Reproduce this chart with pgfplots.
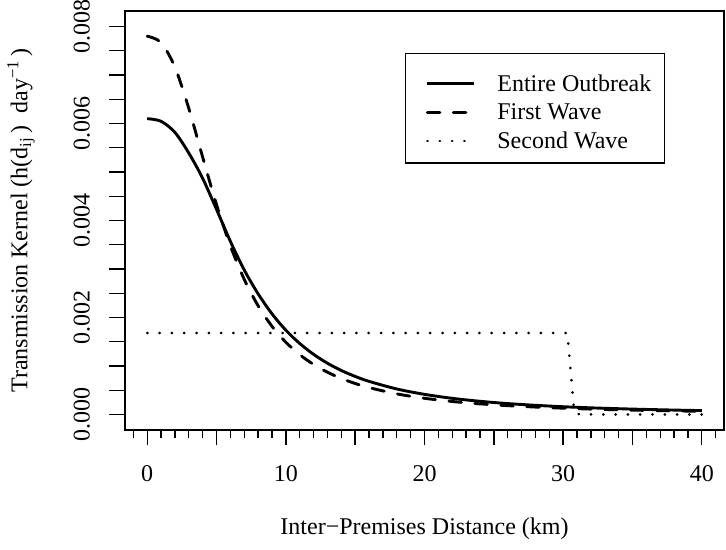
\documentclass[border=0pt]{standalone}
\usepackage{fontspec}
\setmainfont{Liberation Serif}
\usepackage{pgfplots}
\pgfplotsset{compat=1.18}
\newcommand{\fs}{\fontsize{24bp}{28.8bp}\selectfont}
\begin{document}
\begin{tikzpicture}[font=\fs]
\useasboundingbox (0,0) rectangle (726bp,550bp);
\begin{axis}[
  at={(125bp,120bp)}, anchor=south west,
  scale only axis, width=599bp, height=419bp,
  xmin=-1.6, xmax=41.6, ymin=-0.00032, ymax=0.00832,
  axis line style={line width=1.35bp},
  tick align=outside, xtick pos=bottom, ytick pos=left,
  every tick/.style={black, line width=1.35bp},
  every minor tick/.style={black, line width=1.35bp},
  major tick length=15.5bp, minor tick length=8bp,
  xtick={0,5,...,40}, xticklabels={0,,10,,20,,30,,40},
  minor xtick={-1,1,2,3,4,6,7,8,9,11,12,13,14,16,17,18,19,21,22,23,24,26,27,28,29,31,32,33,34,36,37,38,39,41},
  ytick={0,0.0005,0.001,0.0015,0.002,0.0025,0.003,0.0035,0.004,0.0045,0.005,0.0055,0.006,0.0065,0.007,0.0075,0.008},
  yticklabels={\rotatebox{90}{0.000},,,,\rotatebox{90}{0.002},,,,\rotatebox{90}{0.004},,,,\rotatebox{90}{0.006},,,,\rotatebox{90}{0.008}},
  scaled y ticks=false,
  tick label style={font=\fs},
  xticklabel style={anchor=center, yshift=-27.7bp},
  yticklabel style={anchor=center, xshift=-27.7bp},
  label style={font=\fs},
  xlabel={Inter−Premises Distance (km)},
  ylabel={Transmission Kernel (h(d\textsubscript{ij}\,)\enspace day\textsuperscript{−1}\,)},
  xlabel style={at={(axis description cs:0.5,-0.236)}, anchor=center},
  ylabel style={at={(axis description cs:-0.1736,0.5)}, anchor=center},
  legend style={at={(axis description cs:0.9015,0.8998)}, anchor=north east,
    draw=black, line width=1.35bp, font=\fs,
    inner xsep=13bp, inner ysep=11.4bp, row sep=0pt, column sep=0pt,
    cells={anchor=west},
    nodes={inner sep=0pt, text height=26bp, text depth=2.8bp}},
  legend cell align=left,
  legend image code/.code={\path[draw=none,fill=none] (-9bp,-3.9bp) -- (70bp,-3.9bp); \draw[#1] (0bp,-3.9bp) -- (47bp,-3.9bp);},
]
\addplot[black, line width=2.9bp, smooth] coordinates {
(0,0.00610) (1,0.006046) (2,0.005817) (3,0.005392) (4,0.00487) (5,0.00423)
(6,0.003570) (7,0.002980) (8,0.002488) (9,0.002076) (10,0.001738) (11,0.001464)
(12,0.001240) (13,0.001057) (14,0.000907) (15,0.000785) (16,0.000683) (18,0.000526)
(20,0.000415) (22,0.000333) (24,0.000272) (26,0.000225) (28,0.000189) (30,0.000160)
(32,0.000137) (34,0.000119) (36,0.000104) (38,0.0000910) (40,0.0000804)};
\addlegendentry{Entire Outbreak}
\addplot[black, line width=2.9bp, smooth, line cap=round, dash pattern=on 12.5bp off 13.5bp] coordinates {
(0,0.00780) (1,0.007671) (2,0.007162) (3,0.006313) (4,0.005307) (5,0.004327)
(6,0.003478) (7,0.002786) (8,0.002242) (9,0.001819) (10,0.001490) (11,0.001233)
(12,0.001032) (13,0.000872) (14,0.000743) (15,0.000639) (16,0.000554) (18,0.000425)
(20,0.000334) (22,0.000268) (24,0.000219) (26,0.000182) (28,0.000153) (30,0.000130)
(32,0.000111) (34,0.0000964) (36,0.0000842) (38,0.0000741) (40,0.0000655)};
\addlegendentry{First Wave}
\addplot[black, line width=2.7bp, line cap=round, dash pattern=on 0.3bp off 12bp] coordinates {
(0,0.00168) (30.3,0.00168) (30.8,0.00005) (31.2,0.0) (40,0.0)};
\addlegendentry{Second Wave}
\end{axis}
\end{tikzpicture}
\end{document}
